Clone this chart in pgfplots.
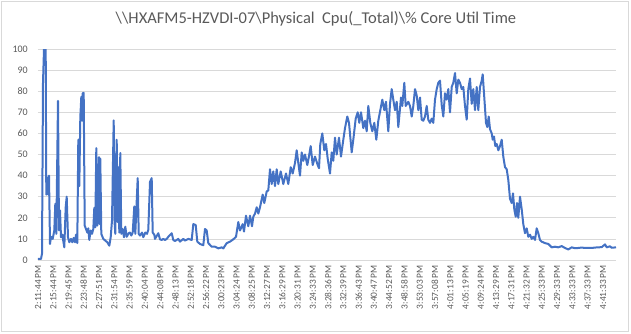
\documentclass[border=0pt]{standalone}
\usepackage{fontspec}
\setmainfont{Carlito}
\usepackage{pgfplots}
\pgfplotsset{compat=1.18}
\definecolor{lineblue}{RGB}{68,114,196}
\definecolor{gridgray}{RGB}{217,217,217}
\definecolor{textgray}{RGB}{89,89,89}
\begin{document}
\begin{tikzpicture}[x=1pt,y=1pt]
\useasboundingbox (0,0) rectangle (631,333);
\draw[gridgray, line width=0.8pt] (1,2) rectangle (628,332);
\node[text=textgray, font=\fontsize{16.5}{19}\selectfont] at (316,314) {\textbackslash\textbackslash HXAFM5-HZVDI-07\textbackslash Physical\ \ Cpu(\_Total)\textbackslash\% Core\ Util Time};
\begin{axis}[
  at={(38pt,73pt)}, anchor=south west,
  scale only axis, width=578pt, height=211pt,
  xmin=38, xmax=616, ymin=0, ymax=100,
  ytick={0,10,...,100},
  xtick={38,53.27,68.54,83.81,99.08,114.35,129.62,144.89,160.16,175.43,190.7,205.97,221.24,236.51,251.78,267.05,282.32,297.59,312.86,328.13,343.4,358.67,373.94,389.21,404.48,419.75,435.02,450.29,465.56,480.83,496.1,511.37,526.64,541.91,557.18,572.45,587.72,602.99},
  xticklabels={2:11:44 PM,2:15:44 PM,2:19:45 PM,2:23:48 PM,2:27:51 PM,2:31:54 PM,2:35:59 PM,2:40:04 PM,2:44:08 PM,2:48:13 PM,2:52:18 PM,2:56:22 PM,3:00:23 PM,3:04:24 PM,3:08:25 PM,3:12:27 PM,3:16:29 PM,3:20:31 PM,3:24:33 PM,3:28:36 PM,3:32:39 PM,3:36:43 PM,3:40:47 PM,3:44:52 PM,3:48:58 PM,3:53:03 PM,3:57:08 PM,4:01:13 PM,4:05:19 PM,4:09:24 PM,4:13:29 PM,4:17:31 PM,4:21:32 PM,4:25:33 PM,4:29:33 PM,4:33:33 PM,4:37:33 PM,4:41:33 PM},
  ymajorgrids,
  major grid style={gridgray, line width=0.8pt},
  axis line style={draw=none},
  major tick length=0pt,
  /pgf/number format/assume math mode=true,
  yticklabel style={font=\fontsize{10}{12}\selectfont, text=textgray, anchor=east, inner sep=0pt},
  yticklabel shift=10pt,
  xticklabel style={font=\fontsize{9.4}{11}\selectfont, text=textgray, rotate=90, anchor=east, inner sep=0pt},
  xticklabel shift=5pt,
]
\addplot[lineblue, line width=2pt, line join=round, mark=none] coordinates {
(37.7,0.5)(41,0.5)(42,3)(43,84)(44,100)(45.7,100)(46.3,31)(47.3,39)(48.3,31)(49,40)(50,7.6)(51,11)(52.7,10)(54.3,14)(55.3,26.6)(56.3,12.4)(58,75.4)(59,14)(60,23.5)(61,10.8)(62.3,12)(64.3,6)(65.7,25)(66.7,30)(68,10.8)(69.3,8.4)(71,10)(72.3,8.4)(73.7,10.5)(75,8.4)(76,12)(77.3,8)(78.3,57)(79.3,35)(80.3,67.5)(81.3,77.3)(82,66)(82.7,79)(83.7,79.2)(84.7,16.3)(86,14.7)(87.3,13)(88.3,15)(89.3,9.5)(90.7,14)(92,12.4)(93.3,14.7)(94.3,24.7)(95.3,15.5)(96.3,53)(97.3,16.3)(98.3,26.6)(99,48.8)(99.7,17)(100.3,48)(101.3,12.4)(103.3,10)(105.3,9.2)(107.3,8.4)(109.3,6.8)(110.7,10.8)(112,18.7)(113.7,66.2)(114.7,17)(115.3,12.4)(116.7,57)(117.7,18)(118.3,44)(119.3,13)(120.3,50.7)(121.3,12.4)(122.7,14.7)(124,10.8)(125.3,15.8)(126.7,11)(128.7,12.7)(130,13)(131.3,11.6)(132.7,13)(134.3,25.4)(135.3,12.4)(137.7,38.8)(138.7,12.4)(140,11.6)(142,13)(143.3,10.8)(145.3,13)(147,12.4)(148.3,14.3)(150,37)(151.7,38.8)(152.7,13)(154.3,12)
(155,10)(158.3,12.7)(160,9.8)(161.7,9.5)(163.3,10)(165,9.5)(166.7,10)(168.3,11)(171.7,12.7)(173.3,9.5)(175,9)(178.3,10)(180,8.7)(183.3,10)(185,9.2)(188.3,10)(191.7,9.5)(193.3,17)(195.7,16.6)(197.3,8.7)(200,7.6)(203.3,7)(205,14.7)(206.7,14)(208.3,8)(211.7,6.3)(215,6.3)(218.3,5.5)(221.7,6)
(223.3,5.5)(226.7,8)(230,8.7)(233.3,9.8)(236,11)(238.3,18)(240,14)(242.7,17)(244,13.5)(246,21)(248.3,16)(250,21)(252,16)(253.3,20.5)(255,22)(256.7,25)(258.3,22)(260,25)(262.7,31)(264.3,27)(266.7,32.5)(268.3,33)(270,43)(271.7,36)(273.3,42)(275,35)(276.7,43)(278.3,36)(280.7,42)(283.3,36)(286,41)(288.3,36)(290.7,44)(292.7,41)(295,46)(296.7,52)(298.3,46)(300,40)(301.7,51)(303.3,47)(305,50)(307.3,45)(309.3,50)(310.7,54)(312.7,45)
(315,49)(317.7,45)(319,43.5)(320.3,55)(322.3,60)(324.3,52)(326,55)(327.7,48)(330,41)(331.7,51)(333.3,47)(335,58)(336.7,50)(339,58)(341,49)(343.3,57)(345,62.5)(347.3,68)(349,65)(351.7,51)(353.3,57)(355.7,67)(357.7,70)(359.3,65)(361,70)(363.3,62.5)(365,66)(366.7,61)(368.3,73)(370.3,65)(372.3,61)(374.3,65)(376.3,57)(378.3,66)(380.3,71)(382.3,76)(384.3,71)(386,75)(388.3,61)(390,74)(391.7,81)(393.3,76)(395,71)(396.7,75)(398.3,63)(401,77)(402.3,73)(404.3,84)(405.7,73)(408.3,75)
(410,73)(411.7,68)(413.3,73)(415,81)(416.7,78)(418.3,71)(420,77)(421.7,66.5)(423.3,66)(425,68)(426.7,73)(428.3,66.5)(430,65)(431.7,67)(433.3,65)(435,76)(436.7,81)(438.3,84)(440,85)(441.7,73.5)(443.3,68)(445,79)(446.7,76)(448.3,81)(450,70)(451.7,82)(453.3,84)(455,88.6)(456.7,79)(458.3,85.5)(460,84)(461.7,81)(463.3,82)(465,73)(466.7,66.5)(468.3,81)(470,86)(471.7,74)(473.3,81)(475,71)(476.7,82)(478.3,71)(480,82)(481.7,85)(482.7,88)(484,79)(486,65)(487.3,63)(488.7,68)(490,62)(491.7,60)(492.7,57)(494,58.5)(495.3,54)(496.7,55)(498.3,52)(500,54)(501.7,57)(503.3,49)(505,44)(506.7,43)(508.3,38)(510,29)
(511.7,27)(513,31.6)(514.3,24)(515.7,20.5)(517,27)(518.3,20)(520,30)(521.7,24)(523.3,17)(525,12.7)(526.7,15)(528.3,11)(530,12)(531.7,10)(533.3,11)(535,9.5)(536.7,15)(538.3,12.7)(540,9.5)(541.7,8.7)(545,8)(548.3,7.6)(551.7,6)(555,6.3)(558.3,6)(561.7,6.6)(565,5.7)(568.3,5)(571.7,6)(575,5.6)(578.3,5.7)(581.7,5.9)(585,5.7)(588.3,5.8)(591.7,5.7)(595,5.9)(598.3,6)(601.7,6.1)(605,7.4)(606.7,6)(610,6.5)(611.7,5.8)(616,6)
};
\end{axis}
\end{tikzpicture}
\end{document}
